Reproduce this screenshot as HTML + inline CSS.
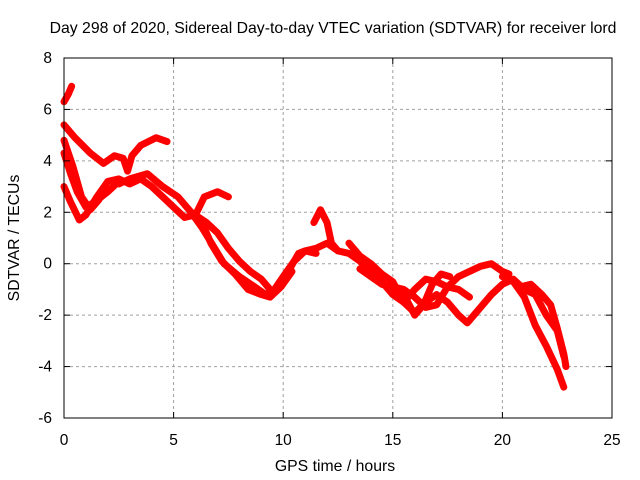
<!DOCTYPE html>
<html><head><meta charset="utf-8"><style>
body{margin:0;background:#fff}
svg{display:block;font-family:"Liberation Sans",sans-serif}
</style></head><body>
<svg id="chart" width="640" height="480">
<rect width="640" height="480" fill="#fff"/>
<text x="333" y="33" font-size="15.8" text-anchor="middle">Day 298 of 2020, Sidereal Day-to-day VTEC variation (SDTVAR) for receiver lord</text>
<text x="335" y="471" font-size="15.8" text-anchor="middle">GPS time / hours</text>
<text transform="translate(19,238) rotate(-90)" font-size="15.8" text-anchor="middle">SDTVAR / TECUs</text>
<g id="grid"></g><g id="series"></g><g id="axes"></g>
</svg>
<script>
const xTicks=[0,5,10,15,20,25];
const yTicks=[-6,-4,-2,0,2,4,6,8];
const trackA=[[0,6.3],[0.2,6.6],[0.35,6.9]];
const trackB=[[0,5.4],[0.5,4.9],[1.2,4.3],[1.8,3.9],[2.3,4.2],[2.7,4.1],[2.9,3.6],[3.1,4.2],[3.5,4.6],[4.2,4.9],[4.7,4.75]];
const trackC=[[0,3.0],[0.3,2.4],[0.7,1.7],[1.0,1.9],[1.5,2.6],[2.0,3.2],[2.5,3.3],[3,3.1],[3.5,3.3],[4.0,3.0],[4.5,2.6],[5,2.2],[5.5,1.8],[6,1.9],[6.4,2.6],[7,2.8],[7.5,2.6]];
const trackD=[[0,4.3],[0.3,3.5],[0.6,2.8],[1,2.2],[1.4,2.4],[2,2.8],[2.5,3.2]];
const trackD2=[[0,4.8],[0.4,3.8],[0.8,2.6],[1.2,2.1],[1.6,2.5]];
const trackE=[[2.5,3.1],[3,3.3],[3.8,3.5],[4.5,3.0],[5.2,2.6],[5.8,2.0],[6.3,1.4],[6.8,0.7],[7.3,0.0],[8,-0.5],[8.7,-0.9],[9.2,-1.2],[9.6,-1.0],[10,-0.5],[10.5,0.1],[11,0.5],[11.5,0.6],[12,0.8],[12.5,0.5],[13,0.4],[13.5,0.1],[14,-0.3],[14.5,-0.7],[15,-1.2],[15.5,-1.5],[16,-1.0],[16.5,-0.6],[17,-0.7],[17.5,-0.9],[18,-0.5],[18.5,-0.3],[19,-0.1],[19.5,0.0],[20,-0.3],[20.3,-0.4]];
const trackF=[[5.8,2.0],[6.5,1.6],[7,1.2],[7.5,0.6],[8,0.1],[8.5,-0.3],[9,-0.6],[9.5,-1.1],[10,-0.6],[10.3,-0.2],[10.7,0.4],[11,0.5],[11.5,0.4]];
const trackG=[[6.3,1.6],[6.7,0.8],[7.2,0.1],[7.8,-0.4],[8.4,-1.0],[9,-1.2],[9.4,-1.3],[9.9,-0.9],[10.4,-0.3]];
const trackH=[[11.4,1.6],[11.7,2.1],[12,1.6],[12.2,0.8],[12.5,0.5]];
const trackI=[[13,0.8],[13.5,0.3],[14,0.0],[14.5,-0.4],[15,-0.7],[15.5,-1.5],[16,-1.9],[16.5,-1.5],[17,-1.2],[17.5,-1.5],[18,-2.0],[18.4,-2.3],[19,-1.7],[19.5,-1.2],[20,-0.8],[20.5,-0.6],[21,-1.0],[21.5,-1.2],[22,-2.0],[22.5,-2.6],[22.8,-3.6]];
const trackJ=[[15,-0.9],[15.5,-1.2],[16,-2.0],[16.4,-1.6],[16.8,-0.8],[17.2,-0.4],[17.6,-0.5]];
const trackK=[[20,-0.5],[20.5,-0.7],[21,-1.3],[21.5,-2.4],[22,-3.2],[22.5,-4.1],[22.8,-4.8]];
const trackL=[[20.8,-0.9],[21.3,-0.8],[21.8,-1.2],[22.2,-1.6],[22.5,-2.5],[22.8,-3.5],[22.9,-4.0]];
const trackM=[[13.5,-0.2],[14.5,-0.8],[15.5,-1.0],[16,-1.3],[16.5,-1.7],[17,-1.6],[17.5,-0.9],[18,-1.0],[18.5,-1.3]];
const tracks=[trackA,trackB,trackC,trackD,trackD2,trackE,trackF,trackG,trackH,trackI,trackJ,trackK,trackL,trackM];
const X0=64,X1=612,Y0=418,Y1=58;
const sx=v=>X0+(v-0)/(25-0)*(X1-X0);
const sy=v=>Y0-(v+6)/(14)*(Y0-Y1);
const NS="http://www.w3.org/2000/svg";
const grid=document.getElementById('grid'),axes=document.getElementById('axes'),ser=document.getElementById('series');
function mk(tag,attrs,parent){const e=document.createElementNS(NS,tag);for(const k in attrs)e.setAttribute(k,attrs[k]);parent.appendChild(e);return e;}
xTicks.forEach(t=>{
 const x=sx(t);
 if(t>0&&t<25){const g=mk('line',{x1:x,x2:x,y1:Y1,y2:Y0,stroke:'#a0a0a0','stroke-dasharray':'3,3'},grid);
 
 }
 const l=mk('text',{x:x,y:Y0+27,'font-size':'15.5','text-anchor':'middle'},axes);l.textContent=t;
 
 
 mk('line',{x1:x,x2:x,y1:Y0,y2:Y0-6,stroke:'#000'},axes);
 mk('line',{x1:x,x2:x,y1:Y1,y2:Y1+6,stroke:'#000'},axes);
});
yTicks.forEach(t=>{
 const y=sy(t);
 if(t>-6&&t<8){const g=mk('line',{x1:X0,x2:X1,y1:y,y2:y,stroke:'#a0a0a0','stroke-dasharray':'3,3'},grid);
 
 }
 const l=mk('text',{x:X0-12,y:y+5,'font-size':'15.5','text-anchor':'end'},axes);l.textContent=t;
 
 
 mk('line',{x1:X0,x2:X0+6,y1:y,y2:y,stroke:'#000'},axes);
 mk('line',{x1:X1,x2:X1-6,y1:y,y2:y,stroke:'#000'},axes);
});
const fr=mk('rect',{x:X0,y:Y1,width:X1-X0,height:Y0-Y1,fill:'none',stroke:'#000'},axes);


tracks.forEach((tr,i)=>{
 const p=mk('polyline',{points:tr.map(d=>sx(d[0])+','+sy(d[1])).join(' '),fill:'none',stroke:'#ff0000','stroke-width':'7','stroke-linejoin':'round','stroke-linecap':'round'},ser);
 
 
});
</script>
</body></html>
